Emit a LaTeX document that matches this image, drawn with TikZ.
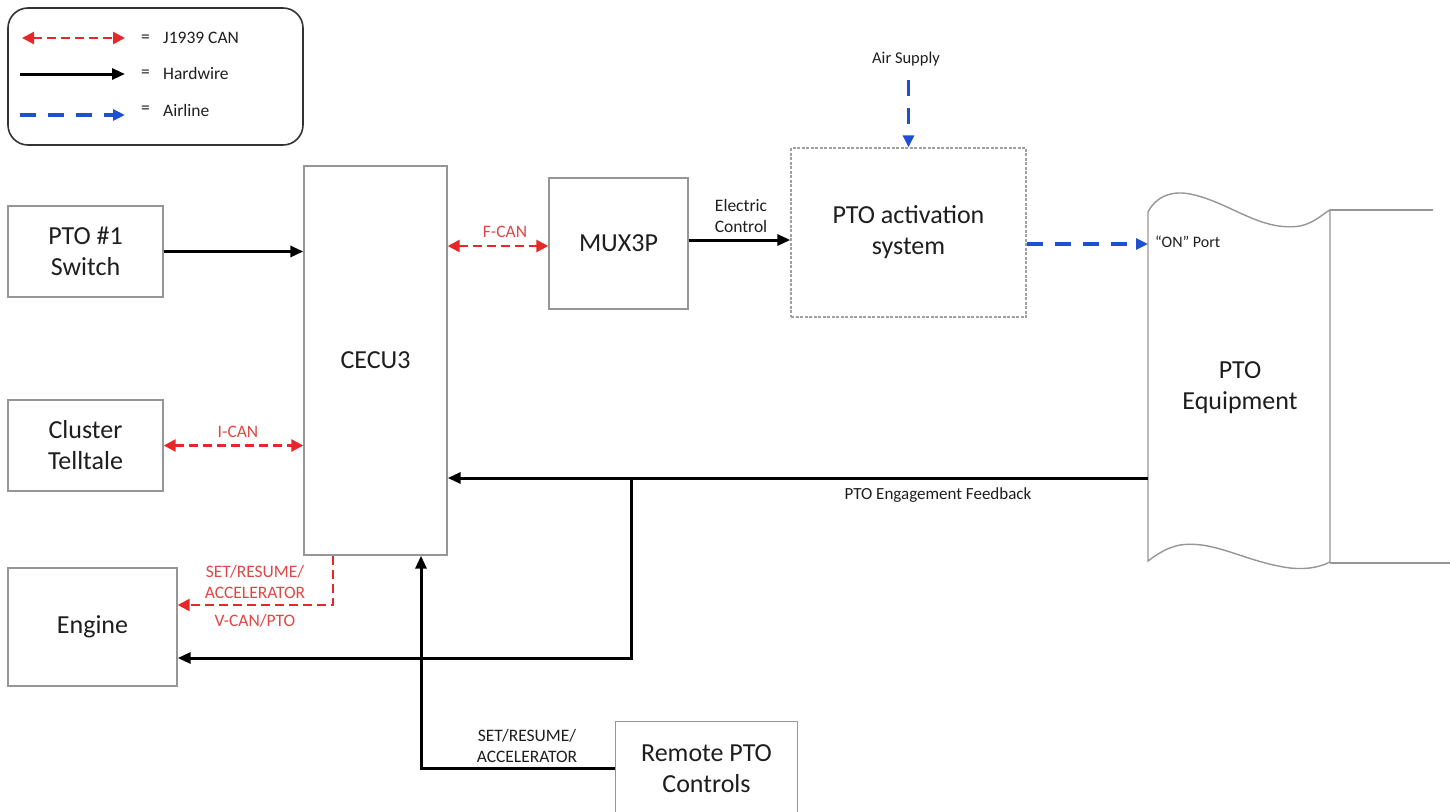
\documentclass[tikz,border=0pt]{standalone}
\usepackage{fontspec}
\setmainfont{Carlito}
\usetikzlibrary{arrows.meta}
\definecolor{cred}{RGB}{232,40,40}
\definecolor{lred}{RGB}{225,70,70}
\definecolor{cblue}{RGB}{30,80,210}
\definecolor{bord}{RGB}{150,150,150}
\definecolor{txt}{RGB}{30,30,30}
\tikzset{
  box/.style={draw=bord, line width=1.4pt, fill=white, align=center, text=txt,
    font=\fontsize{26}{31}\selectfont, inner sep=0pt},
  small/.style={font=\fontsize{17.5}{20.5}\selectfont, text=txt, align=center, inner sep=0pt},
  redlab/.style={font=\fontsize{17.5}{21}\selectfont, text=lred, align=center, inner sep=0pt},
  hw/.style={line width=3pt, black, -{Triangle[length=13pt,width=11pt]}},
  can/.style={line width=2.6pt, cred, dash pattern=on 9pt off 5pt,
    -{Triangle[length=12pt,width=12pt]}},
  canboth/.style={can, {Triangle[length=12pt,width=12pt]}-{Triangle[length=12pt,width=12pt]}},
  air/.style={line width=3.6pt, cblue, dash pattern=on 16pt off 12pt,
    -{Triangle[length=12pt,width=11pt]}},
}
\begin{document}
\begin{tikzpicture}[x=1pt,y=-1pt]
\useasboundingbox (0,0) rectangle (1450,811);
\clip (0,0) rectangle (1450,811);

% legend
\node[draw=black!80, line width=1.6pt, rounded corners=20pt, minimum width=295, minimum height=137] (legend) at (155.5,76.5) {};
\coordinate (l1a) at (22,38); \coordinate (l1b) at (125,38);
\coordinate (l2a) at (20,74); \coordinate (l2b) at (125,74);
\coordinate (l3a) at (20,115); \coordinate (l3b) at (125,115);
\draw[canboth] (l1a) -- (l1b);
\draw[hw] (l2a) -- (l2b);
\draw[air] (l3a) -- (l3b);
\node[small, anchor=west] (eq1) at (141,39) {=};
\node[small, anchor=west] (lt1) at (163,38) {J1939 CAN};
\node[small, anchor=west] (eq2) at (141,74) {=};
\node[small, anchor=west] (lt2) at (163,73) {Hardwire};
\node[small, anchor=west] (eq3) at (141,110) {=};
\node[small, anchor=west] (lt3) at (163,110) {Airline};

% boxes
\node[box, minimum width=155, minimum height=91] (pto1) at (85.5,251.5) {PTO \#1\\Switch};
\node[box, minimum width=155, minimum height=91] (clu) at (85.5,445.5) {Cluster\\Telltale};
\node[box, minimum width=169, minimum height=118] (eng) at (92.5,627) {Engine};
\node[box, minimum width=143, minimum height=389] (cecu) at (375.5,360.5) {CECU3};
\node[box, minimum width=139, minimum height=131] (mux) at (618.5,243.5) {MUX3P};
\node[box, draw=bord!90, line width=1.3pt, dashed, dash pattern=on 3pt off 1.5pt, minimum width=235, minimum height=169] (act) at (908.5,232.5) {PTO activation\\system};
\node[box, draw=none, fill=none, minimum width=181, minimum height=94] (rem) at (706.5,769) {Remote PTO\\Controls};
\draw[bord, line width=1.4pt] (rem.south west) |- (rem.north east) -- (rem.south east);

% PTO equipment shape
\draw[bord, line width=1.4pt, fill=white]
  (1148,212) .. controls (1155,198) and (1170,190) .. (1190,194)
  .. controls (1230,202) and (1260,232) .. (1300,226)
  .. controls (1315,223) and (1325,212) .. (1330,210)
  -- (1330,562)
  .. controls (1322,566) and (1310,570) .. (1290,568)
  .. controls (1245,562) and (1215,540) .. (1180,545)
  .. controls (1165,548) and (1155,556) .. (1148,561) -- cycle;
\draw[bord, line width=1.4pt] (1330,210) -- (1433,210);
\draw[bord, line width=1.4pt] (1330,563) -- (1450,563);
\node[box, draw=none, fill=none] (equip) at (1240,388) {PTO\\Equipment};
\node[small, anchor=west, font=\fontsize{16}{18}\selectfont] (onport) at (1155,242) {“ON” Port};
\coordinate (eqOn) at (1148,244);
\coordinate (eqFb) at (1148,478);

% connectors
\draw[hw] (pto1.east) -- (cecu.west |- pto1.east);
\draw[canboth] (clu.east) -- (cecu.west |- clu.east);
\node[redlab] (ican) at (238,432) {I-CAN};
\draw[canboth] (cecu.east |- 0,246) -- (mux.west |- 0,246);
\node[redlab] (fcan) at (505,232) {F-CAN};
\draw[hw] (mux.east |- 0,240) -- (act.west |- 0,240);
\node[small] (elec) at (741,216) {Electric\\Control};
\node[small, font=\fontsize{16.5}{18}\selectfont] (airlab) at (906,59) {Air Supply};
\draw[air] (act.north |- 0,80) -- (act.north);
\draw[air] (act.east |- 0,244) -- (eqOn);

\coordinate (junc) at (631,478);
\draw[hw] (eqFb) -- (cecu.east |- eqFb);
\node[small, font=\fontsize{17}{18}\selectfont] (fblab) at (938,495) {PTO Engagement Feedback};
\draw[hw] (junc) -- (junc |- 0,658) -- (eng.east |- 0,658);

\coordinate (redturn) at (333,605);
\draw[can] (cecu.south -| redturn) -- (redturn) -- (eng.east |- redturn);
\node[redlab] (setred) at (255,582) {SET/RESUME/\\ACCELERATOR};
\node[redlab] (vcan) at (255,621) {V-CAN/PTO};

\coordinate (remturn) at (421,768);
\draw[hw] (rem.west |- remturn) -- (remturn) -- (cecu.south -| remturn);
\node[small] (setblk) at (527,746) {SET/RESUME/\\ACCELERATOR};
\end{tikzpicture}
\end{document}
